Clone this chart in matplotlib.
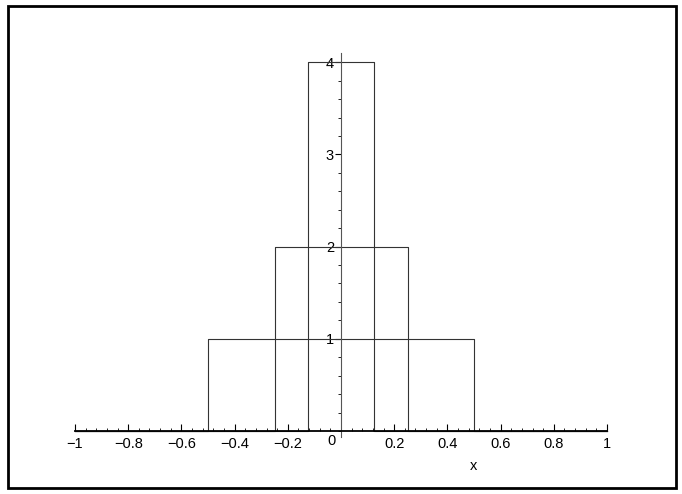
import matplotlib.pyplot as plt
from matplotlib.ticker import MultipleLocator
from matplotlib.patches import Rectangle

# pulse half-widths and heights
half_widths = [0.5, 0.25, 0.125]
heights = [1, 2, 4]
x_ticks = [-1, -0.8, -0.6, -0.4, -0.2, 0.2, 0.4, 0.6, 0.8, 1]
x_tick_labels = ["\u22121", "\u22120.8", "\u22120.6", "\u22120.4", "\u22120.2",
                 "0.2", "0.4", "0.6", "0.8", "1"]
y_ticks = [1, 2, 3, 4]

fig = plt.figure(figsize=(6.82, 4.94), dpi=100)
plt.rcParams["font.family"] = "Liberation Sans"

# outer frame
fig.patches.append(Rectangle((8 / 682, 6 / 494), 668 / 682, 482 / 494,
                             transform=fig.transFigure, fill=False,
                             edgecolor="black", linewidth=2))

ax = fig.add_axes([75 / 682, 63 / 494, 532 / 682, 378 / 494])
ax.set_xlim(-1, 1)
ax.set_ylim(0, 4.1)

# --- pulses ---
for w, h in zip(half_widths, heights):
    xs = [-1, -w, -w, w, w, 1]
    ys = [0, 0, h, h, 0, 0]
    ax.plot(xs, ys, color="#333333", linewidth=0.8, clip_on=False)

for s in ["top", "right"]:
    ax.spines[s].set_visible(False)
ax.spines["left"].set_position(("data", 0))
ax.spines["bottom"].set_position(("data", 0))
ax.spines["bottom"].set_linewidth(1.3)
ax.spines["left"].set_bounds(-0.07, 4.1)
ax.spines["left"].set_color("#555555")

ax.set_xticks(x_ticks)
ax.set_xticklabels(x_tick_labels, fontsize=10.5)
ax.xaxis.set_minor_locator(MultipleLocator(0.04))
ax.tick_params(axis="x", which="major", direction="in", length=5, pad=4)
ax.tick_params(axis="x", which="minor", direction="in", length=2.5)

ax.set_yticks(y_ticks)
ax.set_yticklabels([str(v) for v in y_ticks], fontsize=10.5)
ax.yaxis.set_minor_locator(MultipleLocator(0.2))
ax.tick_params(axis="y", which="major", direction="out", length=4, pad=1)
ax.tick_params(axis="y", which="minor", direction="out", length=2.5)

ax.text(-0.02, -0.03, "0", ha="right", va="top", fontsize=10.5)
ax.text(0.5, -0.3, "x", ha="center", va="top", fontsize=10.5)

fig.savefig("out.png", dpi=100)
